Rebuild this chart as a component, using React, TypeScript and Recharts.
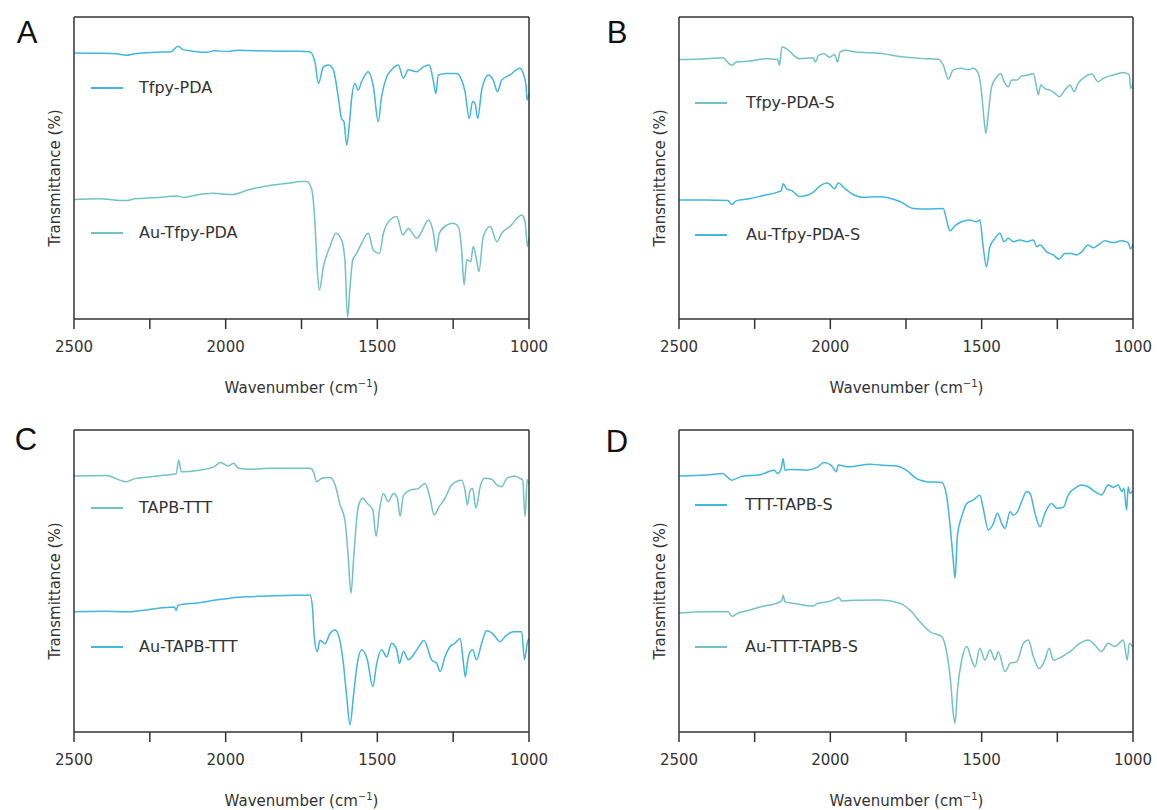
import React from 'react';
import { LineChart, Line, XAxis, YAxis, Label, Legend } from 'recharts';

type P = [number, number];

const wavenumberTicks = [2500, 2250, 2000, 1750, 1500, 1250, 1000];
const labeledTicks = [2500, 2000, 1500, 1000];

const tfpyPda: P[] = [
  [2500, 88.1], [2420, 88.0], [2360, 87.8], [2329, 87.3], [2300, 87.8], [2230, 88.3], [2180, 88.5], [2157, 90.3],
  [2140, 89.2], [2100, 88.6], [2060, 88.3], [2040, 88.8], [1990, 88.6], [1960, 89.0], [1900, 88.8], [1821, 88.7],
  [1760, 88.7], [1722, 88.5], [1705, 84.7], [1694, 78.0], [1678, 83.5], [1662, 84.1], [1645, 82.5], [1629, 73.6],
  [1618, 66.4], [1610, 65.3], [1601, 57.6], [1592, 64.8], [1584, 73.6], [1574, 78.0], [1563, 75.8], [1552, 78.6],
  [1530, 81.9], [1513, 76.9], [1497, 65.3], [1486, 73.6], [1469, 80.2], [1453, 82.5], [1431, 84.1], [1414, 79.7],
  [1398, 82.5], [1370, 81.9], [1348, 83.5], [1329, 84.1], [1315, 78.6], [1307, 74.7], [1299, 80.8], [1271, 81.3],
  [1238, 81.3], [1222, 79.1], [1211, 75.3], [1197, 66.4], [1186, 72.0], [1178, 71.4], [1169, 66.4], [1156, 75.8],
  [1134, 80.8], [1118, 79.1], [1104, 75.3], [1090, 79.1], [1063, 80.8], [1030, 83.0], [1019, 81.3], [1010, 77.5],
  [1006, 72.5], [1000, 75.0],
];

const auTfpyPda: P[] = [
  [2500, 39.6], [2420, 39.8], [2329, 39.2], [2300, 39.8], [2230, 40.2], [2157, 40.7], [2140, 40.2], [2100, 41.0],
  [2040, 41.6], [1980, 41.2], [1921, 42.9], [1850, 44.3], [1790, 45.0], [1756, 45.5], [1733, 45.5], [1716, 42.7],
  [1705, 30.6], [1698, 16.2], [1691, 9.6], [1678, 17.3], [1656, 24.0], [1636, 28.4], [1618, 26.2], [1607, 19.6],
  [1598, 0.5], [1590, 10.7], [1581, 19.6], [1568, 21.7], [1552, 25.1], [1530, 28.4], [1513, 22.8], [1493, 21.7],
  [1480, 28.4], [1458, 32.8], [1436, 33.9], [1416, 27.8], [1398, 30.0], [1370, 26.7], [1354, 28.9], [1332, 32.8],
  [1315, 28.4], [1306, 22.3], [1296, 28.4], [1271, 31.1], [1250, 31.7], [1233, 30.6], [1222, 22.8], [1214, 11.3],
  [1205, 19.6], [1192, 19.0], [1184, 24.0], [1173, 19.6], [1165, 15.7], [1151, 27.2], [1128, 30.6], [1106, 25.6],
  [1090, 28.4], [1063, 30.6], [1024, 34.4], [1013, 32.2], [1005, 24.0], [1000, 27.0],
];

const tfpyPdaS: P[] = [
  [2500, 85.9], [2408, 86.2], [2356, 86.5], [2326, 84.0], [2310, 85.1], [2268, 85.4], [2209, 86.2], [2174, 85.9],
  [2168, 84.0], [2160, 90.1], [2138, 89.0], [2121, 87.3], [2103, 86.2], [2056, 86.5], [2050, 85.1], [2039, 87.3],
  [2021, 87.8], [2003, 86.7], [1986, 87.6], [1976, 85.1], [1968, 88.4], [1951, 89.0], [1915, 88.4], [1836, 88.0],
  [1770, 86.9], [1704, 86.3], [1643, 86.0], [1627, 84.1], [1610, 79.4], [1594, 82.5], [1566, 83.0], [1544, 82.5],
  [1528, 83.0], [1511, 81.3], [1500, 74.7], [1492, 65.9], [1486, 61.5], [1478, 68.1], [1467, 76.9], [1450, 80.2],
  [1437, 81.3], [1426, 78.6], [1412, 76.9], [1401, 79.1], [1384, 79.1], [1368, 80.5], [1346, 80.8], [1329, 81.3],
  [1320, 77.5], [1313, 74.2], [1305, 77.5], [1291, 76.3], [1274, 75.8], [1258, 74.7], [1243, 73.6], [1225, 75.8],
  [1208, 77.5], [1195, 75.3], [1181, 78.0], [1159, 80.2], [1137, 81.1], [1115, 78.6], [1098, 79.7], [1065, 80.8],
  [1032, 81.6], [1012, 80.8], [1008, 76.3], [1000, 78.0],
];

const auTfpyPdaS: P[] = [
  [2500, 39.4], [2408, 39.4], [2338, 39.2], [2326, 37.9], [2310, 39.2], [2268, 39.8], [2221, 40.9], [2174, 42.0],
  [2162, 42.5], [2156, 44.8], [2144, 43.1], [2127, 42.5], [2103, 40.6], [2080, 40.9], [2056, 42.0], [2033, 44.2],
  [2009, 45.0], [1998, 44.2], [1986, 43.1], [1974, 45.0], [1951, 43.1], [1927, 41.4], [1892, 40.3], [1836, 40.5],
  [1770, 38.9], [1726, 36.6], [1680, 36.4], [1627, 36.6], [1616, 32.8], [1605, 29.2], [1588, 30.9], [1566, 32.2],
  [1539, 32.8], [1517, 32.2], [1506, 32.8], [1495, 23.9], [1484, 17.3], [1473, 23.9], [1456, 26.7], [1440, 28.4],
  [1426, 25.6], [1412, 26.7], [1395, 25.6], [1373, 26.2], [1351, 25.6], [1329, 26.2], [1318, 23.9], [1307, 24.5],
  [1285, 22.2], [1263, 21.2], [1245, 19.8], [1225, 21.7], [1203, 21.7], [1187, 21.2], [1170, 22.2], [1148, 24.5],
  [1131, 23.6], [1115, 24.5], [1093, 25.9], [1065, 25.3], [1038, 25.9], [1016, 25.3], [1008, 23.2], [1000, 25.0],
];

const tapbTtt: P[] = [
  [2500, 84.8], [2394, 84.9], [2329, 82.9], [2300, 83.9], [2252, 84.4], [2205, 85.0], [2163, 85.5], [2155, 90.1],
  [2146, 86.2], [2087, 86.7], [2039, 87.8], [2016, 89.2], [1992, 88.1], [1974, 89.0], [1957, 87.3], [1921, 87.0],
  [1850, 87.3], [1760, 87.3], [1722, 87.3], [1711, 86.2], [1700, 82.9], [1683, 84.0], [1656, 84.3], [1639, 81.8],
  [1623, 75.2], [1607, 70.2], [1596, 58.0], [1587, 45.9], [1577, 59.2], [1563, 74.6], [1548, 77.4], [1533, 75.7],
  [1515, 73.5], [1504, 64.7], [1493, 73.5], [1480, 79.0], [1464, 76.3], [1447, 79.0], [1434, 77.4], [1425, 71.5],
  [1414, 78.3], [1392, 80.1], [1365, 80.6], [1343, 82.3], [1326, 77.4], [1313, 71.9], [1296, 74.6], [1277, 77.4],
  [1255, 81.8], [1222, 83.4], [1211, 80.1], [1203, 75.2], [1194, 80.1], [1186, 80.6], [1175, 74.1], [1161, 81.2],
  [1148, 84.0], [1123, 83.7], [1106, 81.8], [1090, 81.2], [1073, 84.0], [1046, 84.8], [1030, 84.0], [1021, 83.5],
  [1013, 71.3], [1006, 83.5], [1000, 82.0],
];

const auTapbTtt: P[] = [
  [2500, 39.8], [2400, 40.0], [2323, 39.8], [2252, 40.6], [2169, 41.4], [2163, 40.2], [2157, 42.0], [2087, 42.8],
  [2039, 43.6], [1980, 44.4], [1921, 44.8], [1803, 45.2], [1732, 45.3], [1722, 45.4], [1714, 41.5], [1708, 31.6],
  [1698, 26.6], [1689, 30.4], [1673, 29.2], [1656, 32.6], [1639, 33.8], [1625, 31.0], [1612, 22.7], [1601, 11.7],
  [1590, 2.3], [1579, 11.7], [1566, 22.7], [1552, 27.2], [1533, 23.9], [1515, 15.0], [1502, 22.7], [1486, 27.2],
  [1469, 24.9], [1453, 29.4], [1436, 27.2], [1427, 22.7], [1414, 26.7], [1398, 23.9], [1370, 27.2], [1346, 30.3],
  [1321, 23.9], [1304, 22.7], [1293, 20.0], [1277, 24.9], [1260, 28.3], [1244, 29.4], [1227, 31.0], [1216, 22.7],
  [1210, 18.3], [1200, 24.9], [1186, 27.2], [1173, 23.9], [1156, 29.4], [1140, 33.5], [1118, 32.4], [1096, 29.9],
  [1079, 31.6], [1052, 33.2], [1024, 33.2], [1015, 23.9], [1006, 29.4], [1000, 31.0],
];

const tttTapbS: P[] = [
  [2500, 84.8], [2408, 85.1], [2356, 85.6], [2326, 83.4], [2291, 84.7], [2232, 85.2], [2185, 86.7], [2174, 85.6],
  [2162, 87.3], [2156, 90.6], [2150, 86.7], [2127, 86.9], [2080, 86.7], [2044, 87.6], [2021, 89.2], [1998, 88.4],
  [1980, 86.2], [1974, 88.4], [1939, 87.8], [1868, 88.7], [1836, 88.4], [1781, 88.1], [1748, 86.6], [1715, 83.9],
  [1682, 82.9], [1632, 82.6], [1616, 78.3], [1605, 69.1], [1594, 57.0], [1588, 50.9], [1580, 65.3], [1566, 71.3],
  [1549, 75.7], [1528, 76.8], [1506, 78.4], [1495, 74.1], [1478, 66.9], [1461, 69.1], [1448, 72.4], [1434, 69.1],
  [1423, 67.4], [1406, 72.9], [1395, 71.8], [1379, 73.5], [1368, 76.3], [1351, 79.6], [1340, 79.0], [1324, 72.4],
  [1307, 68.0], [1291, 72.4], [1269, 75.7], [1252, 74.1], [1230, 74.4], [1214, 78.5], [1192, 80.7], [1170, 81.8],
  [1148, 81.2], [1126, 79.6], [1104, 78.5], [1082, 81.8], [1065, 81.0], [1049, 81.8], [1037, 79.6], [1030, 80.7],
  [1021, 73.5], [1016, 81.2], [1010, 79.0], [1000, 80.0],
];

const auTttTapbS: P[] = [
  [2500, 39.4], [2408, 39.8], [2338, 39.8], [2324, 38.3], [2309, 39.2], [2268, 40.3], [2221, 41.7], [2180, 42.5],
  [2160, 43.6], [2156, 45.3], [2150, 43.1], [2115, 42.5], [2056, 41.7], [2044, 42.5], [2009, 43.1], [1986, 43.9],
  [1972, 44.5], [1962, 43.4], [1915, 43.6], [1836, 43.7], [1770, 42.6], [1737, 40.4], [1704, 36.5], [1671, 33.2],
  [1632, 31.6], [1616, 26.6], [1602, 16.1], [1594, 6.2], [1588, 2.9], [1580, 13.9], [1566, 23.8], [1549, 28.3],
  [1533, 23.8], [1522, 21.6], [1506, 27.7], [1489, 23.8], [1472, 27.2], [1456, 23.8], [1445, 26.6], [1423, 20.0],
  [1406, 22.7], [1384, 23.3], [1362, 29.4], [1346, 30.5], [1329, 24.9], [1310, 21.0], [1291, 23.8], [1277, 27.7],
  [1263, 23.8], [1236, 24.9], [1208, 26.6], [1175, 29.4], [1148, 30.5], [1126, 28.8], [1104, 26.6], [1082, 29.4],
  [1060, 28.3], [1032, 30.5], [1019, 23.8], [1012, 29.4], [1000, 28.0],
];

const SKY = '#41b6e0';
const TEAL = '#72c2c4';
const AXIS = '#333';
const FONT = '"DejaVu Sans", Verdana, sans-serif';

type Series = { name: string; data: P[]; color: string; legendY: number };
type PanelDef = {
  letter: string;
  left: number;
  top: number;
  plotRight: number;
  letterX: number;
  letterY: number;
  lineX: number;
  textX: number;
  series: Series[];
};

const panels: PanelDef[] = [
  {
    letter: 'A', left: 0, top: 0, plotRight: 529, letterX: 27, letterY: 33, lineX: 91, textX: 139,
    series: [
      { name: 'Tfpy-PDA', data: tfpyPda, color: SKY, legendY: 88 },
      { name: 'Au-Tfpy-PDA', data: auTfpyPda, color: TEAL, legendY: 233 },
    ],
  },
  {
    letter: 'B', left: 605, top: 0, plotRight: 528, letterX: 617, letterY: 33, lineX: 90, textX: 141,
    series: [
      { name: 'Tfpy-PDA-S', data: tfpyPdaS, color: TEAL, legendY: 103 },
      { name: 'Au-Tfpy-PDA-S', data: auTfpyPdaS, color: SKY, legendY: 235 },
    ],
  },
  {
    letter: 'C', left: 0, top: 413, plotRight: 529, letterX: 26, letterY: 440, lineX: 91, textX: 139,
    series: [
      { name: 'TAPB-TTT', data: tapbTtt, color: TEAL, legendY: 95 },
      { name: 'Au-TAPB-TTT', data: auTapbTtt, color: SKY, legendY: 234 },
    ],
  },
  {
    letter: 'D', left: 605, top: 413, plotRight: 528, letterX: 617, letterY: 442, lineX: 90, textX: 140,
    series: [
      { name: 'TTT-TAPB-S', data: tttTapbS, color: SKY, legendY: 92 },
      { name: 'Au-TTT-TAPB-S', data: auTttTapbS, color: TEAL, legendY: 234 },
    ],
  },
];

const CHART_W = 552;
const CHART_H = 405;
const PLOT_LEFT = 74;
const PLOT_TOP = 17;
const PLOT_BOTTOM = 319;
const X_AXIS_H = 30;
const SIDE_AXIS = 1;

const toRows = (d: P[]) => d.map(([wn, t]) => ({ wn, t }));

function XTitle() {
  const cx = (PLOT_LEFT + 529) / 2;
  return (
    <text x={cx} y={PLOT_BOTTOM + 74} textAnchor="middle" fill={AXIS} fontSize={15} fontFamily={FONT}>
      Wavenumber (cm
      <tspan dy={-6} fontSize={10}>−1</tspan>
      <tspan dy={6}>)</tspan>
    </text>
  );
}

function YTitle() {
  const x = 55;
  const y = 178;
  return (
    <text
      x={x}
      y={y}
      textAnchor="middle"
      dominantBaseline="central"
      transform={`rotate(-90 ${x} ${y})`}
      fill={AXIS}
      fontSize={15}
      fontFamily={FONT}
    >
      Transmittance (%)
    </text>
  );
}

function Panel({ p }: { p: PanelDef }) {
  const legendContent = () => (
    <div style={{ position: 'relative', width: CHART_W, height: CHART_H, pointerEvents: 'none' }}>
      {p.series.map((s) => (
        <div key={s.name}>
          <div
            style={{
              position: 'absolute',
              left: p.lineX,
              top: s.legendY - 1,
              width: 32,
              height: 2,
              background: s.color,
            }}
          />
          <div
            style={{
              position: 'absolute',
              left: p.textX,
              top: s.legendY - 10,
              height: 20,
              lineHeight: '20px',
              fontSize: 16,
              fontFamily: FONT,
              color: '#333',
              whiteSpace: 'nowrap',
            }}
          >
            {s.name}
          </div>
        </div>
      ))}
    </div>
  );

  return (
    <div style={{ position: 'absolute', left: p.left, top: p.top, width: CHART_W, height: CHART_H }}>
      <LineChart
        width={CHART_W}
        height={CHART_H}
        margin={{
          left: PLOT_LEFT - SIDE_AXIS,
          top: PLOT_TOP - SIDE_AXIS,
          right: CHART_W - p.plotRight - SIDE_AXIS,
          bottom: CHART_H - PLOT_BOTTOM - X_AXIS_H,
        }}
      >
        <XAxis
          dataKey="wn"
          type="number"
          domain={[1000, 2500]}
          reversed
          allowDataOverflow
          ticks={wavenumberTicks}
          interval={0}
          tickFormatter={(v: number) => (labeledTicks.includes(v) ? String(v) : '')}
          tickSize={10}
          tickMargin={12}
          height={X_AXIS_H}
          tick={{ fill: AXIS, fontSize: 15, fontFamily: FONT }}
          axisLine={{ stroke: AXIS, strokeWidth: 1.5 }}
          tickLine={{ stroke: AXIS, strokeWidth: 1.5 }}
        >
          <Label content={() => <XTitle />} />
        </XAxis>
        <XAxis
          xAxisId="top"
          orientation="top"
          dataKey="wn"
          type="number"
          domain={[1000, 2500]}
          reversed
          height={SIDE_AXIS}
          tick={false}
          tickLine={false}
          axisLine={{ stroke: AXIS, strokeWidth: 1.5 }}
        />
        <YAxis
          domain={[0, 100]}
          allowDataOverflow
          width={SIDE_AXIS}
          tick={false}
          tickLine={false}
          axisLine={{ stroke: AXIS, strokeWidth: 1.5 }}
        >
          <Label content={() => <YTitle />} />
        </YAxis>
        <YAxis
          yAxisId="right"
          orientation="right"
          domain={[0, 100]}
          width={SIDE_AXIS}
          tick={false}
          tickLine={false}
          axisLine={{ stroke: AXIS, strokeWidth: 1.5 }}
        />
        <Legend
          layout="vertical"
          align="center"
          verticalAlign="middle"
          content={legendContent}
          wrapperStyle={{ left: 0, top: 0, width: CHART_W, height: CHART_H }}
        />
        {p.series.map((s) => (
          <Line
            key={s.name}
            name={s.name}
            data={toRows(s.data)}
            dataKey="t"
            type="monotone"
            stroke={s.color}
            strokeWidth={1.5}
            dot={false}
            activeDot={false}
            isAnimationActive={false}
          />
        ))}
      </LineChart>
    </div>
  );
}

export default function App() {
  return (
    <div
      style={{
        position: 'absolute',
        left: 0,
        top: 0,
        width: 1157,
        height: 810,
        background: '#fff',
        overflow: 'hidden',
      }}
    >
      {panels.map((p) => (
        <Panel key={p.letter} p={p} />
      ))}
      {panels.map((p) => (
        <div
          key={`l-${p.letter}`}
          style={{
            position: 'absolute',
            left: p.letterX - 20,
            top: p.letterY - 20,
            width: 40,
            height: 40,
            lineHeight: '40px',
            textAlign: 'center',
            fontSize: 31,
            fontFamily: '"Liberation Sans", Arial, sans-serif',
            color: '#111',
          }}
        >
          {p.letter}
        </div>
      ))}
    </div>
  );
}
